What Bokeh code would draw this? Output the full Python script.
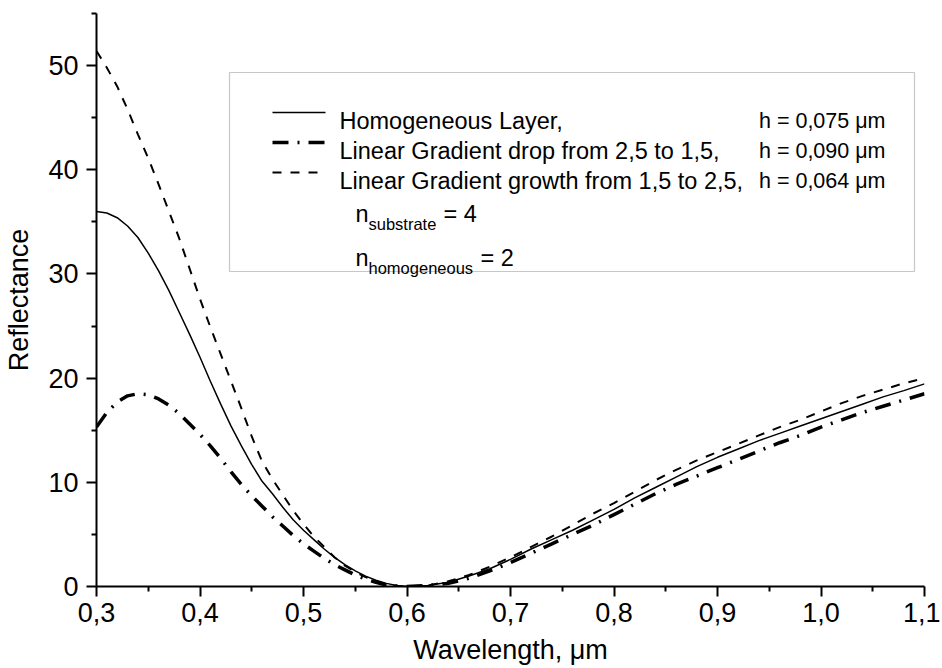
from bokeh.plotting import figure
from bokeh.models import Range1d, Label, BoxAnnotation, FixedTicker, CustomJSTickFormatter
from bokeh.embed import file_html
from bokeh.resources import INLINE

# ---------------- data ----------------
wavelength = [0.30, 0.31, 0.32, 0.33, 0.34, 0.35, 0.36, 0.37, 0.38, 0.39,
              0.40, 0.41, 0.42, 0.43, 0.44, 0.45, 0.46, 0.47, 0.48, 0.49,
              0.50, 0.51, 0.52, 0.53, 0.54, 0.55, 0.56, 0.57, 0.58, 0.59,
              0.60, 0.62, 0.64, 0.66, 0.68, 0.70, 0.72, 0.74, 0.76, 0.78,
              0.80, 0.82, 0.84, 0.86, 0.88, 0.90, 0.92, 0.94, 0.96, 0.98,
              1.00, 1.02, 1.04, 1.06, 1.08, 1.10]

homogeneous = [36.0, 35.85, 35.4, 34.6, 33.5, 32.0, 30.3, 28.4, 26.3, 24.2,
               22.0, 19.7, 17.5, 15.4, 13.5, 11.7, 10.1, 8.9, 7.6, 6.4,
               5.4, 4.5, 3.6, 2.8, 2.1, 1.5, 1.0, 0.6, 0.3, 0.1,
               0.0, 0.1, 0.4, 1.0, 1.7, 2.6, 3.6, 4.5, 5.4, 6.4,
               7.4, 8.5, 9.5, 10.5, 11.5, 12.4, 13.2, 14.0, 14.7, 15.4,
               16.1, 16.8, 17.5, 18.2, 18.8, 19.45]

gradient_drop = [15.3, 16.7, 17.7, 18.3, 18.5, 18.4, 18.0, 17.4, 16.6, 15.6,
                 14.6, 13.5, 12.3, 11.0, 9.8, 8.7, 7.7, 6.7, 5.8, 4.9,
                 4.1, 3.4, 2.7, 2.1, 1.6, 1.1, 0.7, 0.4, 0.15, 0.05,
                 0.0, 0.1, 0.3, 0.8, 1.5, 2.3, 3.2, 4.1, 5.0, 5.9,
                 6.9, 7.9, 8.9, 9.8, 10.6, 11.4, 12.2, 13.0, 13.8, 14.5,
                 15.3, 16.0, 16.7, 17.3, 17.9, 18.5]

gradient_growth = [51.4, 49.8, 48.0, 45.8, 43.4, 41.1, 38.6, 36.0, 33.4, 30.5,
                   27.6, 24.9, 22.3, 19.7, 17.1, 14.4, 12.0, 10.3, 8.8, 7.3,
                   6.0, 4.8, 3.8, 2.8, 2.0, 1.4, 0.9, 0.5, 0.2, 0.05,
                   0.0, 0.1, 0.5, 1.1, 1.9, 2.8, 3.8, 4.8, 5.9, 7.0,
                   8.0, 9.1, 10.2, 11.2, 12.1, 12.9, 13.7, 14.5, 15.3, 16.0,
                   16.8, 17.6, 18.3, 18.9, 19.5, 20.0]

x_ticks = [0.3, 0.4, 0.5, 0.6, 0.7, 0.8, 0.9, 1.0, 1.1]
x_minor = [0.35, 0.45, 0.55, 0.65, 0.75, 0.85, 0.95, 1.05]
y_ticks = [0, 10, 20, 30, 40, 50]
y_minor = [5, 15, 25, 35, 45, 55]

legend_labels = ["Homogeneous Layer,",
                 "Linear Gradient drop from 2,5 to 1,5,",
                 "Linear Gradient growth from 1,5 to 2,5,"]
legend_h = ["h = 0,075 \u03bcm", "h = 0,090 \u03bcm", "h = 0,064 \u03bcm"]

FONT = "Liberation Sans"

# ---------------- figure ----------------
X_MIN, X_MAX, Y_MIN, Y_MAX = 0.3, 1.1, 0.0, 55.0
FL, FT, FRAME_W, FRAME_H = 96, 13, 828, 573   # frame position in page pixels
p = figure(frame_width=FRAME_W, frame_height=FRAME_H,
           min_border_left=FL, min_border_right=16,
           min_border_top=FT, min_border_bottom=80,
           x_range=Range1d(X_MIN, X_MAX), y_range=Range1d(Y_MIN, Y_MAX),
           output_backend="svg", toolbar_location=None,
           x_axis_label="Wavelength, \u03bcm", y_axis_label="Reflectance")
p.outline_line_color = None
p.grid.visible = False
p.background_fill_color = "white"
p.border_fill_color = "white"

for ax in (p.xaxis[0], p.yaxis[0]):
    ax.axis_line_width = 2
    ax.major_tick_line_width = 2
    ax.minor_tick_line_width = 2
    ax.major_tick_out = 10
    ax.major_tick_in = 0
    ax.minor_tick_out = 5
    ax.minor_tick_in = 0
    ax.major_label_text_font = FONT
    ax.major_label_text_font_size = "27px"
    ax.major_label_text_color = "black"
    ax.axis_label_text_font = FONT
    ax.axis_label_text_font_size = "27px"
    ax.axis_label_text_font_style = "normal"
    ax.axis_label_text_color = "black"
    ax.axis_line_color = "black"
    ax.major_tick_line_color = "black"
    ax.minor_tick_line_color = "black"

p.xaxis[0].ticker = FixedTicker(ticks=x_ticks, minor_ticks=x_minor)
p.xaxis[0].formatter = CustomJSTickFormatter(code="return tick.toFixed(1).replace('.', ',');")
p.xaxis[0].major_label_standoff = 6
p.xaxis[0].axis_label_standoff = 10
p.yaxis[0].ticker = FixedTicker(ticks=y_ticks, minor_ticks=y_minor)
p.yaxis[0].major_label_standoff = 8
p.yaxis[0].axis_label_standoff = 11

# ---------------- curves ----------------
p.line(wavelength, homogeneous, line_color="black", line_width=1.5)
p.line(wavelength, gradient_drop, line_color="black", line_width=3.5, line_dash="16 9 2 9")
p.line(wavelength, gradient_growth, line_color="black", line_width=2, line_dash="9 9")

# ---------------- legend (page pixels -> data units) ----------------
def dx(px):
    return X_MIN + (px - FL) * (X_MAX - X_MIN) / FRAME_W

def dy(py):
    return Y_MIN + (FT + FRAME_H - py) * (Y_MAX - Y_MIN) / FRAME_H

p.add_layout(BoxAnnotation(left=dx(229), right=dx(914), top=dy(72), bottom=dy(271),
                           fill_color="white", fill_alpha=1.0,
                           line_color="#444444", line_width=1.2, level="underlay"))

rows_y = [112, 142, 172]
styles = [dict(line_width=1.5), dict(line_width=3.5, line_dash="16 9 2 9"),
          dict(line_width=2, line_dash="9 9")]
for ry, st, lab, hh in zip(rows_y, styles, legend_labels, legend_h):
    p.line([dx(272), dx(325)], [dy(ry), dy(ry)], line_color="black", **st)
    p.add_layout(Label(x=dx(339), y=dy(ry + 8), text=lab, text_font=FONT,
                       text_font_size="23.5px", text_baseline="alphabetic",
                       text_color="black"))
    p.add_layout(Label(x=dx(885), y=dy(ry + 8), text=hh, text_font=FONT,
                       text_font_size="21.5px", text_baseline="alphabetic",
                       text_align="right", text_color="black"))

def sub_label(base_y, sub, rest, rest_x):
    p.add_layout(Label(x=dx(355), y=dy(base_y), text="n", text_font=FONT,
                       text_font_size="23.5px", text_baseline="alphabetic",
                       text_color="black"))
    p.add_layout(Label(x=dx(368), y=dy(base_y + 10), text=sub, text_font=FONT,
                       text_font_size="16.5px", text_baseline="alphabetic",
                       text_color="black"))
    p.add_layout(Label(x=dx(rest_x), y=dy(base_y), text=rest, text_font=FONT,
                       text_font_size="23.5px", text_baseline="alphabetic",
                       text_color="black"))

sub_label(213, "substrate", "= 4", 443)
sub_label(257, "homogeneous", "= 2", 480)

open("out.html", "w").write(file_html(p, INLINE))
